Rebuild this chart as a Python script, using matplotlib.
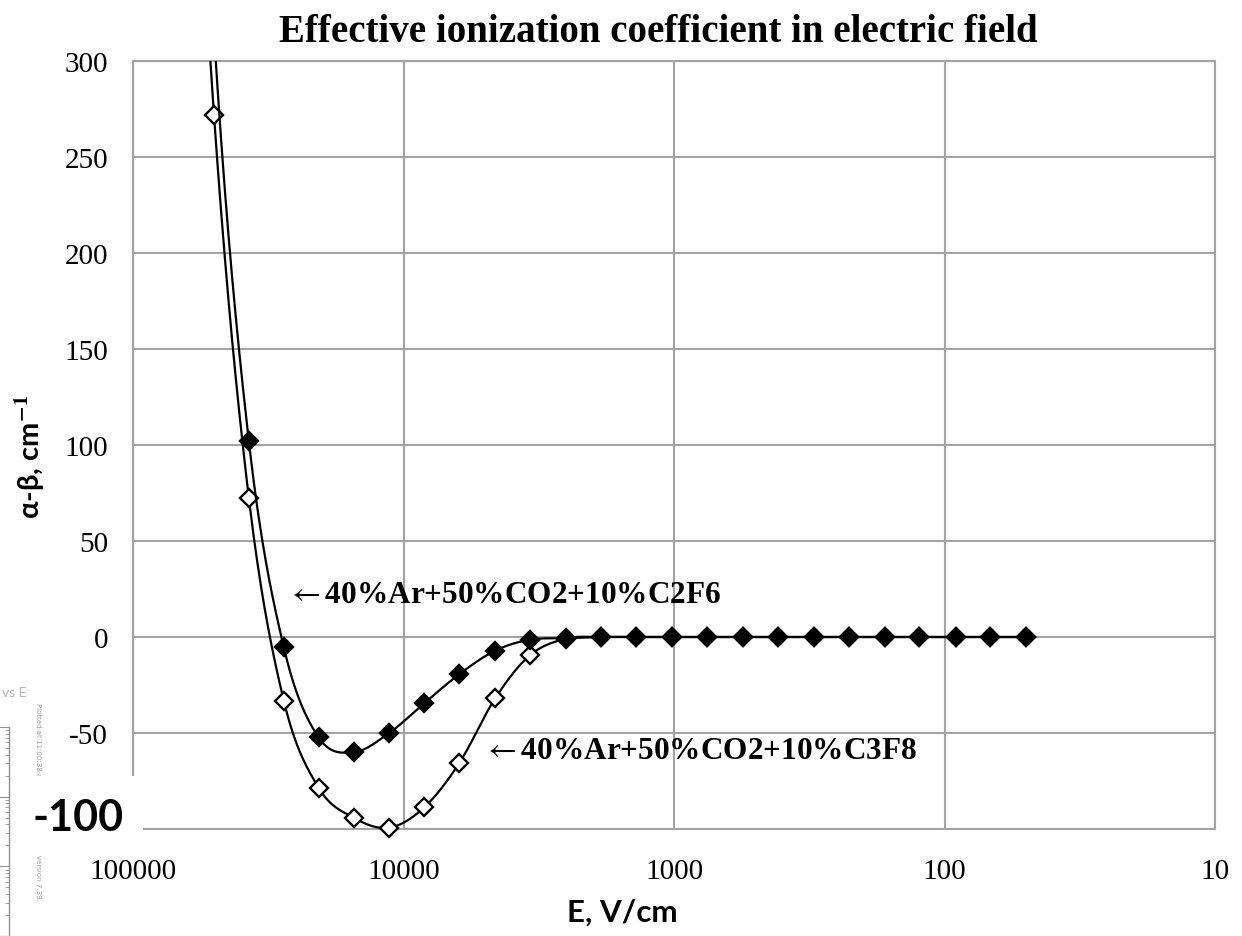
import numpy as np
import matplotlib
matplotlib.use("Agg")
import matplotlib.pyplot as plt
from matplotlib.patches import Rectangle

# ---------------- data ----------------
E_vcm = [68200, 50200, 37300, 27700, 20600, 15300, 11300, 8380, 6210, 4580,
         3400, 2500, 1860, 1380, 1020, 755, 556, 413, 304, 226, 166, 124, 91, 68, 50]
c2f6 = [700, 315, 102, -5.4, -52.3, -60, -50, -34.5, -19.3, -7.1,
        -1.4, -0.6, 0, 0, 0, 0, 0, 0, 0, 0, 0, 0, 0, 0, 0]
c3f8 = [600, 272, 72.4, -33.2, -78.5, -94.1, -99.3, -88.7, -65.5, -31.9,
        -9.4, -0.8, 0, 0, 0, 0, 0, 0, 0, 0, 0, 0, 0, 0, 0]
yticks = [-100, -50, 0, 50, 100, 150, 200, 250, 300]
xticks = [100000, 10000, 1000, 100, 10]
label_c2f6 = r"$\leftarrow$40%Ar+50%CO2+10%C2F6"
label_c3f8 = r"$\leftarrow$40%Ar+50%CO2+10%C3F8"
title = "Effective ionization coefficient in electric field"

plt.rcParams["mathtext.fontset"] = "stix"
YMIN, YMAX = -100, 300


def smooth(xs, ys, n=30):
    """Catmull-Rom (Excel-like) smoothing in log10(x) / y space."""
    lx = np.log10(np.asarray(xs, float))
    y = np.asarray(ys, float)
    P = np.column_stack([lx, y])
    P = np.vstack([P[0], P, P[-1]])
    out = []
    t = np.linspace(0, 1, n)[:, None]
    for i in range(1, len(P) - 2):
        p0, p1, p2, p3 = P[i - 1], P[i], P[i + 1], P[i + 2]
        c1 = p1 + (p2 - p0) / 6.0
        c2 = p2 - (p3 - p1) / 6.0
        seg = ((1 - t) ** 3) * p1 + 3 * ((1 - t) ** 2) * t * c1 + 3 * (1 - t) * t ** 2 * c2 + t ** 3 * p2
        out.append(seg if i == 1 else seg[1:])
    out = np.vstack(out)
    return 10 ** out[:, 0], out[:, 1]


def visible(ys):
    y = np.asarray(ys, float)
    return np.where((y >= YMIN - 1) & (y <= YMAX), y, np.nan)


W, H = 1242, 937
fig = plt.figure(figsize=(W / 100, H / 100), dpi=100)
fig.patch.set_facecolor("white")

L, R, T, B = 133, 1215, 62, 830
ax = fig.add_axes([L / W, 1 - B / H, (R - L) / W, (B - T) / H])
ax.set_xscale("log")
ax.set_xlim(100000, 10)
ax.set_ylim(YMIN, YMAX)
ax.set_xticks(xticks)
ax.set_xticklabels([str(v) for v in xticks])
ax.minorticks_off()
ax.set_yticks(yticks)
ax.set_yticklabels(["" if v == -100 else str(v) for v in yticks])

grid_col = "#a3a3a3"
ax.grid(True, color=grid_col, linewidth=1.5)
ax.set_axisbelow(True)
for s in ax.spines.values():
    s.set_color(grid_col)
    s.set_linewidth(1.5)
ax.tick_params(axis="both", length=0, colors="black")
ax.tick_params(axis="y", pad=18)
ax.tick_params(axis="x", pad=21)
serif = ["Liberation Serif", "DejaVu Serif"]
for lab in ax.get_xticklabels() + ax.get_yticklabels():
    lab.set_fontfamily(serif)
    lab.set_fontsize(21)

# curves
xs, ys = smooth(E_vcm, c3f8)
ax.plot(xs, ys, color="black", lw=1.6, zorder=3)
ax.plot(E_vcm, visible(c3f8), linestyle="none", marker="D", ms=9, mfc="white",
        mec="black", mew=1.7, zorder=4, clip_on=False)
xs, ys = smooth(E_vcm, c2f6)
ax.plot(xs, ys, color="black", lw=1.6, zorder=5)
ax.plot(E_vcm, visible(c2f6), linestyle="none", marker="D", ms=9, mfc="black",
        mec="black", mew=1.7, zorder=6, clip_on=False)

# annotations
fig.text(287 / W, 1 - 603 / H, label_c2f6, fontfamily=serif,
         fontweight="bold", fontsize=22.5, ha="left", va="baseline")
fig.text(483 / W, 1 - 759 / H, label_c3f8, fontfamily=serif,
         fontweight="bold", fontsize=22.5, ha="left", va="baseline")

# titles / axis labels
fig.text(658 / W, 1 - 42 / H, title, fontfamily=serif, fontweight="bold",
         fontsize=28, ha="center", va="baseline")
sans = ["Lato", "DejaVu Sans"]
fig.text(622 / W, 1 - 922 / H, "E, V/cm", fontfamily=sans, fontweight="bold",
         fontsize=22.5, ha="center", va="baseline")
fig.text(30 / W, 1 - 457 / H, "\u03b1-\u03b2, cm$^{\\mathbf{-1}}$", fontfamily=sans,
         fontweight="bold", fontsize=21, ha="center", va="center", rotation=90)

# pasted-over patch with large "-100"
fig.patches.append(Rectangle((30 / W, 1 - 852 / H), 113 / W, 75 / H,
                             transform=fig.transFigure, facecolor="white",
                             edgecolor="none", zorder=10))
fig.text(78 / W, 1 - 818 / H, "-100", fontfamily=sans, fontweight="bold",
         fontsize=31, ha="center", va="center", zorder=11)

# faint artefacts from an underlying image
fig.text(2 / W, 1 - 693 / H, "vs E", fontfamily=sans, fontsize=10,
         color="#b0b0b0", ha="left", va="center")
fig.text(38 / W, 1 - 703 / H, "Plotted at 11:00:38 an", fontsize=5,
         color="#a0a0a0", rotation=-90, ha="center", va="top")
fig.text(38 / W, 1 - 855 / H, "version 7.39.", fontsize=5,
         color="#a0a0a0", rotation=-90, ha="center", va="top")
rax = fig.add_axes([0, 0, 9 / W, (H - 728) / H])
rax.set_yscale("log")
rax.set_ylim(1, 1000)
rax.set_xticks([])
for k in ("left", "top", "bottom"):
    rax.spines[k].set_visible(False)
rax.spines["right"].set_color("#909090")
rax.spines["right"].set_linewidth(1)
rax.yaxis.tick_right()
rax.tick_params(axis="y", which="both", direction="in", colors="#909090",
                labelright=False)
rax.tick_params(axis="y", which="major", length=7)
rax.tick_params(axis="y", which="minor", length=3)
rax.patch.set_alpha(0)

fig.savefig("out.png", dpi=100)
